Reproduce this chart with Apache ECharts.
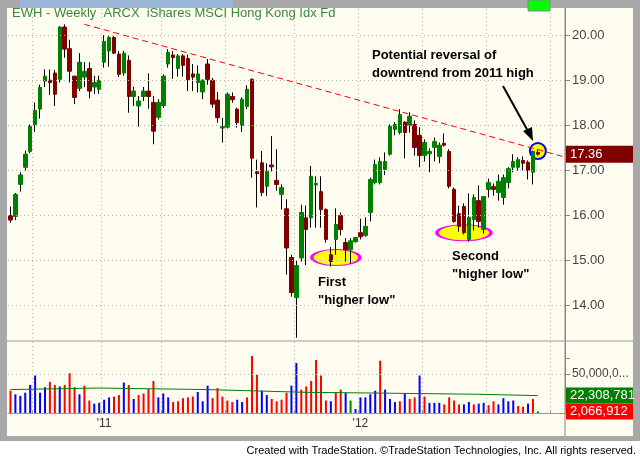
<!DOCTYPE html>
<html><head><meta charset="utf-8">
<script src="https://cdn.jsdelivr.net/npm/echarts@6/dist/echarts.min.js"></script>
<style>html,body{margin:0;padding:0;background:#fff}#c{width:640px;height:459px}</style>
</head><body><div id="c"></div>
<script>
// [open, close, low, high]
const ohlc = [
[16.0,15.9,15.84,16.2],[15.98,16.47,15.9,16.5],[16.69,16.9,16.53,16.96],[17.07,17.36,17.0,17.44],[17.42,17.98,17.38,18.02],
[18.02,18.33,17.85,18.51],[18.36,18.84,18.15,18.9],[18.98,19.09,18.85,19.24],[19.0,18.95,18.67,19.24],[19.16,18.69,18.43,19.23],
[19.02,20.18,18.95,20.2],[20.18,19.69,19.5,20.24],[19.7,19.2,18.95,19.9],[19.09,18.62,18.47,19.1],[18.82,19.4,18.76,19.6],
[19.07,19.2,18.85,19.4],[19.26,18.76,18.6,19.4],[18.85,18.95,18.7,19.1],[18.8,19.0,18.7,19.1],[19.4,19.86,19.28,20.0],
[19.65,19.95,19.3,19.98],[19.95,19.6,19.58,19.98],[19.58,19.13,19.07,19.65],[19.16,19.6,19.1,19.65],[19.44,18.64,18.28,19.55],
[18.64,18.76,18.43,18.86],[18.43,18.54,17.97,18.65],[18.64,18.76,18.54,18.85],[18.76,18.64,18.37,19.15],[18.51,17.87,17.58,18.65],
[18.18,18.51,18.13,18.58],[18.44,19.09,18.39,19.13],[19.36,19.62,19.28,19.69],[19.56,19.5,19.03,19.65],[19.26,19.54,19.08,19.58],
[19.54,19.33,19.08,19.58],[19.48,19.01,18.76,19.57],[19.14,19.07,18.76,19.36],[18.95,19.14,18.73,19.33],[18.74,19.0,18.58,19.02],
[19.36,19.02,18.9,19.47],[19.0,18.47,18.39,19.05],[18.56,18.17,18.06,18.74],[17.94,17.97,17.62,18.17],[17.96,18.69,17.93,18.73],
[18.64,18.57,18.5,18.73],[18.36,18.06,17.95,18.39],[18.0,18.58,17.85,18.62],[18.42,18.8,18.36,18.89],[19.02,17.27,16.84,19.04],
[16.97,16.93,16.18,17.24],[17.17,16.51,16.43,17.43],[16.65,16.98,16.43,17.16],[17.12,17.08,16.98,17.76],[16.78,16.69,16.55,17.47],
[16.47,16.62,16.13,16.69],[16.15,15.28,14.69,16.36],[15.07,14.29,14.2,15.13],[14.18,14.89,13.29,15.0],[15.06,16.07,14.98,16.24],
[15.95,15.69,14.9,16.22],[15.95,16.87,15.73,17.1],[16.68,16.71,15.73,16.87],[16.53,16.13,15.73,16.87],[16.13,15.47,15.4,16.16],
[15.13,14.98,14.87,15.3],[15.47,15.8,15.13,16.16],[16.0,15.69,15.56,16.07],[15.4,15.24,14.98,15.5],[15.24,15.44,14.94,15.5],
[15.42,15.51,15.4,15.52],[15.62,15.53,15.47,15.93],[15.56,15.76,15.53,15.96],[16.07,16.8,15.87,16.84],[16.73,17.13,16.69,17.24],
[16.73,17.2,16.69,17.29],[17.02,17.2,16.9,17.4],[17.36,17.98,17.33,18.02],[17.91,18.02,17.78,18.07],[17.84,18.24,17.8,18.36],
[18.07,17.84,17.27,18.09],[18.0,18.2,17.84,18.29],[18.02,17.51,17.33,18.11],[17.78,17.33,17.07,17.96],[17.33,17.62,17.2,17.69],
[17.37,17.42,16.96,17.49],[17.51,17.64,17.2,17.73],[17.31,17.56,17.16,17.62],[17.6,17.56,17.53,17.82],[17.42,16.65,16.6,17.47],
[16.58,15.87,15.84,16.62],[16.04,15.76,15.64,16.22],[16.2,15.62,15.58,16.27],[15.47,15.96,15.42,16.49],[15.91,16.4,15.67,16.47],
[16.33,15.87,15.73,16.67],[15.69,16.42,15.6,16.42],[16.58,16.73,16.4,16.82],[16.64,16.58,16.44,16.71],[16.51,16.76,16.33,16.91],
[16.4,16.84,16.24,16.91],[16.73,17.04,16.6,17.07],[17.07,17.2,16.96,17.36],[17.07,17.24,17.0,17.29],[17.22,17.16,17.0,17.31],
[17.18,17.0,16.8,17.22],[16.96,17.42,16.69,17.44],[17.4,17.36,17.33,17.47]
];
// volume in millions, colour code: r=red, b=blue, g=green
const volume = [28.6,24,22,26,36,48,26,33,40,36,34,36,51,33,24,35,16,12,13,17,20,21,23,39,36,18,23,25,31,41,20,25,20,14,15,19,20,21,27,15,35,19,32,21,16,14,17,14,20,73,49,28.6,23,18,15,17,26,35,64,30,34,41,68,48,16,15,27,30,26,16,5,20,20,24,28.6,67,30,18,14,15,25,18,20,48,21,13,13,13,11,20,16,11,11,14,11,12,13,10,15,11,19,15,16,9,8,12,18,2.07];
const volColor = "rbbbbbbbrrbrrrbrrbbbbrrbrbrrrrbbbrrrrrbbbrrrrrbbrrrbbrrrrbbrrrrrrbrrbgbbbbbrbbbrbrrbrbbbrrrrbbrbbrrbbbbrrbr";
const volMA = [[0,30],[18,32],[40,30],[60,26.5],[75,25.5],[95,24],[107,22.3]];
const priceTicks = [14,15,16,17,18,19,20];
const lastPrice = 17.36, lastVol = 2066912, volAvg = 22308781;
const trend = [[15,20.24],[112,17.31]];
const lows = [[66,15.07,48,16],[92,15.62,54,16]];
const breakout = [[107,17.43]];
const yearLabels = {19:"'11",71:"'12"};
const quarterLines = [5,19,31,44,58,71,84,97,110];

const N = 113;
const cats = [];
const d0 = new Date(Date.UTC(2010,7,23));
for (let i=0;i<N;i++){const d=new Date(d0.getTime()+i*7*86400000);cats.push(d.toISOString().slice(0,10));}

const wickData = ohlc.map(r=>[r[0],r[1],r[2],r[3]]);
const bodyData = ohlc.map(r=>[r[0],r[1],Math.min(r[0],r[1]),Math.max(r[0],r[1])]);
const volData = volume.map((v,i)=>({value:v*1e6,itemStyle:{color:volColor[i]==='r'?'#ff0000':volColor[i]==='b'?'#0000ff':'#008000'}}));
const maData = new Array(N).fill(null); volMA.forEach(p=>maData[p[0]]=p[1]*1e6);

const dotted = {color:'#b8b8a8',type:[1,3],width:1};
const chart = echarts.init(document.getElementById('c'),null,{renderer:'canvas'});
const baseGraphics = [
    {type:'rect',shape:{x:0,y:0,width:640,height:8},style:{fill:'#a8a8a8'},z:10},
    {type:'rect',shape:{x:20,y:0,width:213,height:8},style:{fill:'#9ab5d5'},z:11},
    {type:'rect',shape:{x:528,y:0,width:22,height:11},style:{fill:'#00ff00',stroke:'#888'},z:11},
    {type:'rect',shape:{x:0,y:0,width:7,height:441},style:{fill:'#a8a8a8'},z:10},
    {type:'rect',shape:{x:633,y:0,width:7,height:441},style:{fill:'#a8a8a8'},z:10},
    {type:'rect',shape:{x:0,y:436,width:640,height:5},style:{fill:'#a8a8a8'},z:10},
    {type:'rect',shape:{x:0,y:441,width:640,height:18},style:{fill:'#ffffff'},z:10},
    {type:'line',shape:{x1:7,y1:341,x2:633,y2:341},style:{stroke:'#999',lineWidth:1},z:10},
    {type:'line',shape:{x1:565,y1:8,x2:565,y2:436},style:{stroke:'#888',lineWidth:1},z:10},
    {type:'text',x:12,y:7,style:{text:'EWH - Weekly  ARCX  iShares MSCI Hong Kong Idx Fd',fill:'#3a8a3a',font:'13px "Liberation Sans"'},z:12},
    {type:'text',x:372,y:46,style:{text:'Potential reversal of\ndowntrend from 2011 high',fill:'#000',font:'bold 13px "Liberation Sans"',lineHeight:18},z:12},
    {type:'text',x:318,y:273,style:{text:'First\n"higher low"',fill:'#000',font:'bold 13px "Liberation Sans"',lineHeight:18},z:12},
    {type:'text',x:452,y:247,style:{text:'Second\n"higher low"',fill:'#000',font:'bold 13px "Liberation Sans"',lineHeight:18},z:12},
    {type:'line',shape:{x1:503,y1:86,x2:529,y2:133},style:{stroke:'#000',lineWidth:2},z:12},
    {type:'polygon',shape:{points:[[533,141],[523,131],[532,127]]},style:{fill:'#000'},z:12},
    {type:'text',right:4,y:445,style:{text:'Created with TradeStation. ©TradeStation Technologies, Inc. All rights reserved.',fill:'#000',font:'11px "Liberation Sans Narrow","Liberation Sans"',align:'right'},z:12}
];
chart.setOption({
  backgroundColor:'#fffcf0',
  animation:false,
  grid:[{left:8,right:75,top:9,height:331},{left:8,right:75,top:342,height:71}],
  xAxis:[
    {type:'category',data:cats,gridIndex:0,boundaryGap:true,axisLine:{show:false},axisTick:{show:false},axisLabel:{show:false},
     splitLine:{show:true,interval:(i)=>quarterLines.includes(i),lineStyle:dotted}},
    {type:'category',data:cats,gridIndex:1,boundaryGap:true,axisLine:{show:true,lineStyle:{color:'#999'}},
     axisTick:{show:true,interval:(i)=>quarterLines.includes(i),length:-3,lineStyle:{color:'#999'}},
     axisLabel:{interval:(i)=>yearLabels[i]!==undefined,formatter:(v,i)=>yearLabels[i]||'',color:'#333',fontSize:12,fontFamily:'Liberation Sans',margin:5},
     splitLine:{show:true,interval:(i)=>quarterLines.includes(i),lineStyle:dotted}}
  ],
  yAxis:[
    {type:'value',gridIndex:0,position:'right',min:13.24,max:20.58,axisLine:{show:true,lineStyle:{color:'#888'}},
     axisTick:{show:true,customValues:priceTicks,length:5,lineStyle:{color:'#888'}},
     axisLabel:{customValues:priceTicks,formatter:v=>v.toFixed(2),color:'#444',fontSize:13,fontFamily:'Liberation Sans',margin:7},
     splitLine:{show:false}},
    {type:'value',gridIndex:1,position:'right',min:0,max:91e6,axisLine:{show:true,lineStyle:{color:'#888'}},
     axisTick:{show:true,customValues:[50e6,70e6],length:5,lineStyle:{color:'#888'}},
     axisLabel:{customValues:[50e6],formatter:()=>'50,000,0...',color:'#444',fontSize:12,fontFamily:'Liberation Sans',margin:7},
     splitLine:{show:false}}
  ],
  series:[
    {type:'scatter',xAxisIndex:0,yAxisIndex:0,z:1,silent:true,
     data:lows.map(l=>({value:[l[0],l[1]],symbolSize:[l[2],l[3]]})),symbol:'circle',
     itemStyle:{color:'#ffff00',borderColor:'#ff00ff',borderWidth:2,opacity:1}},
    {type:'scatter',xAxisIndex:0,yAxisIndex:0,z:1,silent:true,data:breakout,symbol:'circle',symbolSize:16,
     itemStyle:{color:'#ffff00',borderColor:'#0000ff',borderWidth:2,opacity:1}},
    {type:'line',xAxisIndex:0,yAxisIndex:0,data:[],z:2,
     markLine:{silent:true,symbol:'none',label:{show:false},lineStyle:dotted,
       data:priceTicks.map(p=>({yAxis:p}))}},
    {type:'candlestick',name:'wick',xAxisIndex:0,yAxisIndex:0,data:wickData,barWidth:1,z:3,
     itemStyle:{color:'#000',color0:'#000',borderColor:'#000',borderColor0:'#000',borderWidth:1}},
    {type:'candlestick',name:'body',xAxisIndex:0,yAxisIndex:0,data:bodyData,barWidth:4,z:4,
     itemStyle:{color:'#008000',color0:'#800000',borderColor:'#008000',borderColor0:'#800000',borderWidth:1},
     markLine:{silent:true,symbol:'none',z:5,
       data:[
        [{coord:[trend[0][0],trend[0][1]],lineStyle:{color:'#ff0000',type:[6,4],width:1},label:{show:false}},{coord:[trend[1][0],trend[1][1]]}]
       ]}},
    {type:'bar',xAxisIndex:1,yAxisIndex:1,data:volData,barWidth:2,
     markLine:{silent:true,symbol:'none',label:{show:false},lineStyle:dotted,data:[{yAxis:50e6}]}},
    {type:'line',xAxisIndex:1,yAxisIndex:1,data:maData,connectNulls:true,showSymbol:false,lineStyle:{color:'#008000',width:1}}
  ],
  graphic:baseGraphics
});
const yP = chart.convertToPixel({yAxisIndex:0}, lastPrice);
const yA = chart.convertToPixel({yAxisIndex:1}, volAvg);
const yV = chart.convertToPixel({yAxisIndex:1}, lastVol);
function box(y,h,fill,text,id){
  return [{type:'rect',id:id+'r',shape:{x:566,y:y-h/2,width:67,height:h},style:{fill:fill},z:13},
          {type:'text',id:id+'t',x:570,y:y,style:{text:text,fill:'#fff',font:'13px "Liberation Sans"',verticalAlign:'middle'},z:14}];
}
chart.setOption({graphic:baseGraphics.concat(
  box(yP,17,'#800000',lastPrice.toFixed(2),'p'),
  box(Math.min(yA,yV-16),16,'#008000',volAvg.toLocaleString('en-US'),'a'),
  box(yV,16,'#ff0000',lastVol.toLocaleString('en-US'),'v'))});
</script></body></html>
